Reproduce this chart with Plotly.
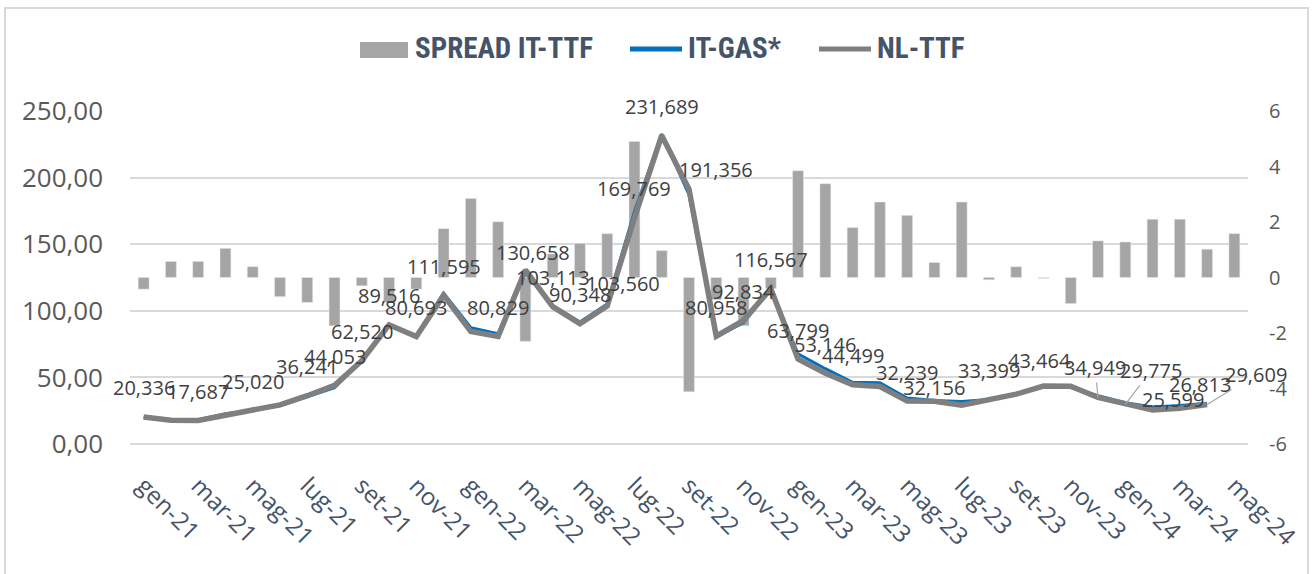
import plotly.graph_objects as go

# ---------------- data ----------------
months = ["gen-21", "feb-21", "mar-21", "apr-21", "mag-21", "giu-21", "lug-21", "ago-21",
          "set-21", "ott-21", "nov-21", "dic-21", "gen-22", "feb-22", "mar-22", "apr-22",
          "mag-22", "giu-22", "lug-22", "ago-22", "set-22", "ott-22", "nov-22", "dic-22",
          "gen-23", "feb-23", "mar-23", "apr-23", "mag-23", "giu-23", "lug-23", "ago-23",
          "set-23", "ott-23", "nov-23", "dic-23", "gen-24", "feb-24", "mar-24", "apr-24",
          "mag-24"]

spread_it_ttf = [-0.42, 0.58, 0.58, 1.05, 0.39, -0.69, -0.90, -1.74, -0.30, -0.90, -0.42, 1.76,
                 2.85, 2.01, -2.30, 0.85, 1.23, 1.58, 4.90, 0.97, -4.12, -0.80, -1.74, -0.40,
                 3.85, 3.38, 1.80, 2.72, 2.24, 0.54, 2.72, -0.08, 0.39, -0.03, -0.94, 1.32,
                 1.28, 2.10, 2.10, 1.02, 1.58]

it_gas = [19.92, 18.48, 18.27, 22.65, 25.41, 28.71, 35.34, 42.31, 62.22, 88.62, 80.27, 113.36,
          87.25, 82.84, 128.36, 103.96, 91.58, 105.14, 174.67, 232.66, 187.24, 80.16, 91.09, 116.17,
          67.65, 56.53, 46.30, 45.92, 34.48, 32.70, 31.92, 33.32, 37.79, 43.43, 42.36, 36.27,
          31.06, 27.70, 28.91, 30.63]

nl_ttf = [20.336, 17.9, 17.687, 21.6, 25.020, 29.4, 36.241, 44.053, 62.520, 89.516, 80.693, 111.595,
          84.4, 80.829, 130.658, 103.113, 90.348, 103.560, 169.769, 231.689, 191.356, 80.958, 92.834, 116.567,
          63.799, 53.146, 44.499, 43.2, 32.239, 32.156, 29.2, 33.399, 37.4, 43.464, 43.3, 34.949,
          29.775, 25.599, 26.813, 29.609]

# months of NL-TTF that carry a data label
labelled_idx = [0, 2, 4, 6, 7, 8, 9, 10, 11, 13, 14, 15, 16, 17, 18, 19, 20, 21, 22, 23,
                24, 25, 26, 28, 29, 31, 33, 35, 36, 37, 38, 39]

tick_labels = months[::2]

left_ticks = [0, 50, 100, 150, 200, 250]
right_ticks = [-6, -4, -2, 0, 2, 4, 6]

# ---------------- style ----------------
W, H = 1314, 574
L, R, T, B = 130, 66, 111, 130
PW, PH = W - L - R, H - T - B

def px_x(x):
    return (x - L) / PW

def px_y(y):
    return (H - B - y) / PH

GRID = "#D9D9D9"
BAR = "#A5A5A5"
BLUE = "#0070C0"
GREY = "#7F7F7F"
AXTXT = "#595959"
XTXT = "#44546A"
LBL = "#404040"
FONT = "Open Sans, Noto Sans, sans-serif"
LEGFONT = "Liberation Sans Narrow, Arial Narrow, Roboto Condensed, Liberation Sans, sans-serif"

# label offsets (pixels: dx right, dy up) and leader-line flags, default is centred above
label_off = {14: (8, 17), 17: (16, 23), 20: (27, 20), 29: (0, 14), 33: (-4, 26),
             35: (-3, 30), 36: (26, 34), 37: (20, 10), 38: (20, 24), 39: (49, 30)}
leader = {35, 36, 39}

fig = go.Figure()

fig.add_trace(go.Bar(x=months, y=spread_it_ttf, name="SPREAD IT-TTF", marker_color=BAR,
                     yaxis="y", showlegend=False))
fig.add_trace(go.Scatter(x=months[:len(it_gas)], y=it_gas, name="IT-GAS*", mode="lines",
                         line=dict(color=BLUE, width=3), yaxis="y2", showlegend=False))
fig.add_trace(go.Scatter(x=months[:len(nl_ttf)], y=nl_ttf, name="NL-TTF", mode="lines",
                         line=dict(color=GREY, width=5.5), yaxis="y2", showlegend=False))

annotations = []
for i in labelled_idx:
    dx, dy = label_off.get(i, (0, 29))
    txt = f"{nl_ttf[i]:.3f}".replace(".", ",")
    annotations.append(dict(
        x=months[i], y=nl_ttf[i], xref="x", yref="y2", text=txt,
        showarrow=True, ax=dx, ay=-dy, axref="pixel", ayref="pixel",
        arrowhead=0, arrowwidth=1.2,
        arrowcolor="#A6A6A6" if i in leader else "rgba(0,0,0,0)",
        font=dict(family=FONT, size=20, color=LBL)))

# outer frame and manual legend
shapes = [
    dict(type="rect", xref="paper", yref="paper", x0=px_x(5), x1=px_x(1308),
         y0=px_y(600), y1=px_y(8), line=dict(color=GRID, width=2), layer="below"),
    dict(type="rect", xref="paper", yref="paper", x0=px_x(360), x1=px_x(408),
         y0=px_y(58), y1=px_y(42), fillcolor=BAR, line=dict(width=0)),
    dict(type="line", xref="paper", yref="paper", x0=px_x(630), x1=px_x(682),
         y0=px_y(49), y1=px_y(49), line=dict(color=BLUE, width=5)),
    dict(type="line", xref="paper", yref="paper", x0=px_x(819), x1=px_x(871),
         y0=px_y(49), y1=px_y(49), line=dict(color=GREY, width=5)),
]
for name, x0 in [("SPREAD IT-TTF", 413), ("IT-GAS*", 686), ("NL-TTF", 875)]:
    annotations.append(dict(x=px_x(x0), y=px_y(48), xref="paper", yref="paper",
                            text=f"<b>{name}</b>", showarrow=False, xanchor="left",
                            yanchor="middle",
                            font=dict(family=LEGFONT, size=29, color=XTXT)))

fig.update_layout(
    width=W, height=H,
    margin=dict(l=L, r=R, t=T, b=B),
    paper_bgcolor="white", plot_bgcolor="white",
    separators=",.",
    bargap=0.6,
    showlegend=False,
    xaxis=dict(type="category", categoryorder="array", categoryarray=months,
               tickmode="array", tickvals=tick_labels, ticktext=tick_labels,
               tickangle=45, tickfont=dict(family=FONT, size=24, color=XTXT),
               showgrid=False, showline=False, zeroline=False, ticks="",
               ticklabelstandoff=22, automargin=False,
               range=[-0.5, len(months) - 0.5]),
    yaxis=dict(side="right", range=[-6, 6], tickmode="array", tickvals=right_ticks,
               ticktext=[str(v) for v in right_ticks], showgrid=False, zeroline=False,
               tickfont=dict(family=FONT, size=20, color=AXTXT), ticklabelstandoff=20,
               automargin=False),
    yaxis2=dict(side="left", overlaying="y", range=[0, 250], tickmode="array",
                tickvals=left_ticks, tickformat=".2f", showgrid=True, gridcolor=GRID,
                gridwidth=2, zeroline=True, zerolinecolor=GRID, zerolinewidth=2,
                tickfont=dict(family=FONT, size=26, color=AXTXT), ticklabelstandoff=26,
                automargin=False),
    shapes=shapes,
    annotations=annotations,
)

fig.write_html("out.html", config={"displayModeBar": False},
               post_script="document.body.style.margin='0';")
